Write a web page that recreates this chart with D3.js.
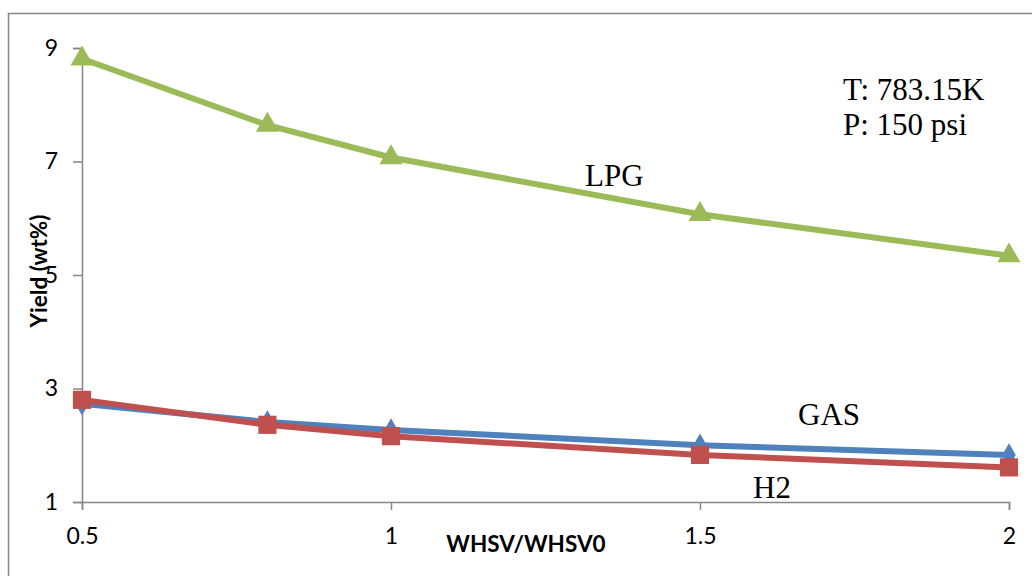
<!DOCTYPE html>
<html>
<head>
<meta charset="utf-8">
<script src="https://cdn.jsdelivr.net/npm/d3@7"></script>
<style>
  html, body { margin: 0; padding: 0; background: #fff; }
  svg { display: block; }
</style>
</head>
<body>
<svg id="chart" width="1032" height="576"></svg>
<script>
// Yield vs relative space velocity
const whsv = [0.5, 0.8, 1, 1.5, 2];
const gasYield = [2.73, 2.41, 2.27, 2.00, 1.83];
const h2Yield = [2.80, 2.36, 2.16, 1.83, 1.61];
const lpgYield = [8.81, 7.64, 7.07, 6.07, 5.34];
const xTicks = [0.5, 1, 1.5, 2];
const yTicks = [1, 3, 5, 7, 9];

const svg = d3.select("#chart");
const axisColor = "#868686";
const tickFont = "Lato, 'Open Sans', sans-serif";
const serif = "'Liberation Serif', 'Times New Roman', serif";
const tickSize = "23px";

// chart frame
svg.append("rect")
  .attr("x", 8.5).attr("y", 13.5)
  .attr("width", 1040).attr("height", 580)
  .attr("fill", "none").attr("stroke", axisColor).attr("stroke-width", 1.5);

const x = d3.scaleLinear().domain([0.5, 2]).range([82, 1009]);
const y = d3.scaleLinear().domain([1, 9]).range([502, 48]);

// y axis
const yAxis = svg.append("g")
  .attr("transform", "translate(82,0)")
  .call(d3.axisLeft(y).tickValues(yTicks).tickSize(9).tickPadding(15).tickFormat(d3.format("d")));
yAxis.select(".domain").attr("stroke", axisColor).attr("stroke-width", 1.5);
yAxis.selectAll(".tick line").attr("stroke", axisColor).attr("stroke-width", 1.5);
yAxis.selectAll(".tick text")
  .attr("fill", "#000").style("font-family", tickFont).style("font-size", tickSize);

// x axis
const xAxis = svg.append("g")
  .attr("transform", "translate(0,502)")
  .call(d3.axisBottom(x).tickValues(xTicks).tickSize(8).tickPadding(18).tickFormat(d => String(d)));
xAxis.select(".domain").attr("stroke", axisColor).attr("stroke-width", 1.5);
xAxis.selectAll(".tick line").attr("stroke", axisColor).attr("stroke-width", 1.5);
xAxis.selectAll(".tick text")
  .attr("fill", "#000").style("font-family", tickFont).style("font-size", tickSize);

// axis titles
svg.append("text")
  .attr("x", 526).attr("y", 552)
  .attr("text-anchor", "middle")
  .style("font-family", tickFont).style("font-weight", "bold").style("font-size", "22.5px")
  .text("WHSV/WHSV0");

svg.append("text")
  .attr("transform", "translate(47,271) rotate(-90)")
  .attr("text-anchor", "middle")
  .style("font-family", tickFont).style("font-weight", "bold").style("font-size", "22.5px")
  .text("Yield (wt%)");

const line = d3.line().x(d => x(d[0])).y(d => y(d[1]));

const series = [
  { name: "GAS", values: gasYield, color: "#4F81BD", shape: d3.symbolDiamond, size: 160 },
  { name: "H2", values: h2Yield, color: "#C0504D", shape: d3.symbolSquare, size: 330 },
  { name: "LPG", values: lpgYield, color: "#9BBB59", shape: d3.symbolTriangle, size: 230 }
];

series.forEach(s => {
  const pts = whsv.map((v, i) => [v, s.values[i]]);
  svg.append("path")
    .datum(pts)
    .attr("d", line)
    .attr("fill", "none")
    .attr("stroke", s.color)
    .attr("stroke-width", 6)
    .attr("stroke-linejoin", "round");
  svg.selectAll(null)
    .data(pts)
    .enter().append("path")
    .attr("transform", d => `translate(${x(d[0])},${y(d[1])})`)
    .attr("d", d3.symbol().type(s.shape).size(s.size))
    .attr("fill", s.color);
});

// series labels and operating conditions
const notes = [
  { t: "LPG", x: 585, y: 186 },
  { t: "GAS", x: 798, y: 425 },
  { t: "H2", x: 753, y: 498 },
  { t: "T: 783.15K", x: 843, y: 100 },
  { t: "P: 150 psi", x: 843, y: 135 }
];
svg.selectAll(null)
  .data(notes)
  .enter().append("text")
  .attr("x", d => d.x).attr("y", d => d.y)
  .style("font-family", serif).style("font-size", "31px").attr("fill", "#000")
  .text(d => d.t);
</script>
</body>
</html>
